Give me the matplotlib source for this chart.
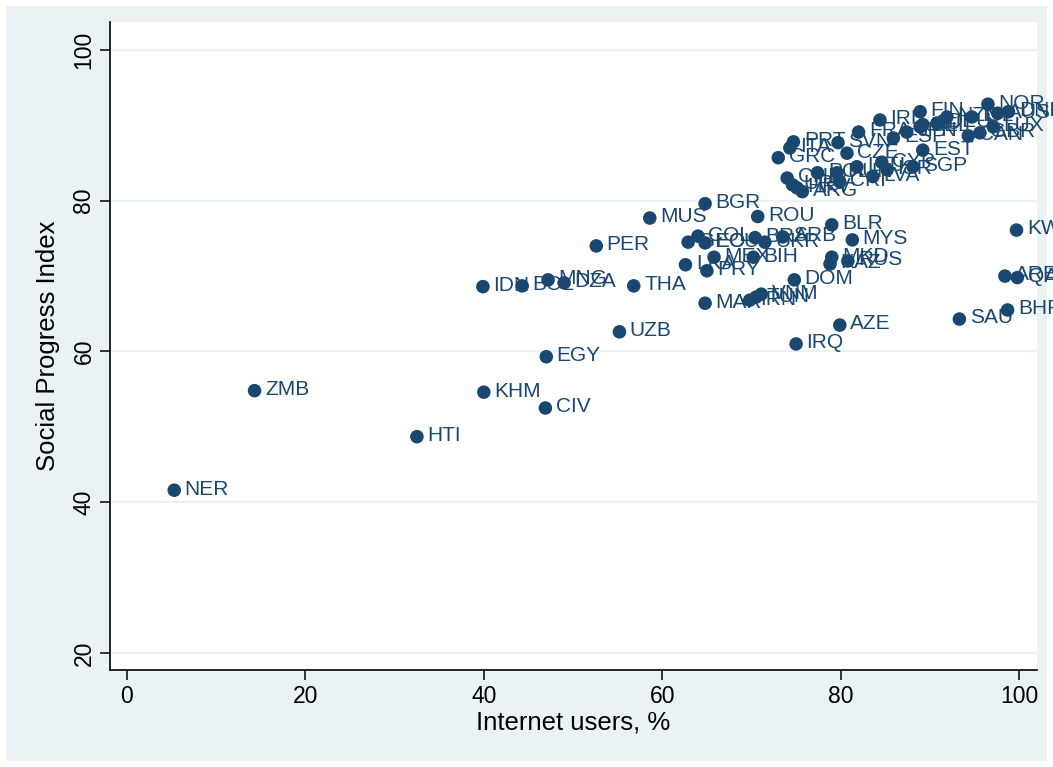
import matplotlib
matplotlib.use("Agg")
import matplotlib.pyplot as plt
from matplotlib.patches import Rectangle

plt.rcParams['font.family'] = ['Liberation Sans', 'DejaVu Sans']

# ---- data ----
codes = ["NER", "ZMB", "HTI", "KHM", "CIV", "EGY", "UZB", "IDN", "BOL", "MNG",
         "DZA", "THA", "PER", "MUS", "BGR", "ROU", "BLR", "MYS", "GEO", "COL",
         "ECU", "BRA", "UKR", "SRB", "MEX", "BIH", "LKA", "PRY", "MKD", "KAZ",
         "RUS", "DOM", "MAR", "IRN", "TUN", "VNM", "AZE", "IRQ", "KWT", "ARE",
         "QAT", "SAU", "BHR", "GRC", "ITA", "PRT", "SVN", "CZE", "FRA", "IRL",
         "EST", "SGP", "CHL", "URY", "HRV", "ARG", "POL", "HUN", "CRI", "LTU",
         "LVA", "ISR", "CYP", "ESP", "JPN", "BEL", "FIN", "AUT", "DEU", "NZL",
         "ISL", "AUS", "DNK", "NOR", "CAN", "GBR", "LUX"]
internet_users = [5.3, 14.3, 32.5, 40.0, 46.9, 47.0, 55.2, 39.9, 44.3, 47.2,
                  49.0, 56.8, 52.6, 58.6, 64.8, 70.7, 79.0, 81.3, 62.9, 64.0,
                  64.8, 70.4, 71.5, 73.5, 65.8, 70.2, 62.6, 65.0, 79.0, 78.8,
                  80.8, 74.8, 64.8, 69.8, 70.5, 71.1, 79.9, 75.0, 99.7, 98.4,
                  99.8, 93.3, 98.7, 73.0, 74.3, 74.7, 79.7, 80.7, 82.0, 84.4,
                  89.2, 88.1, 74.0, 74.6, 75.1, 75.7, 77.4, 79.6, 79.9, 81.8,
                  83.6, 85.2, 84.6, 85.9, 87.4, 88.9, 88.9, 89.2, 90.8, 91.9,
                  94.7, 97.6, 98.8, 96.5, 94.3, 95.6, 97.1]
spi = [41.6, 54.8, 48.7, 54.6, 52.5, 59.3, 62.6, 68.6, 68.7, 69.5,
       69.1, 68.7, 74.0, 77.7, 79.6, 77.9, 76.8, 74.8, 74.5, 75.3,
       74.4, 75.1, 74.5, 75.2, 72.5, 72.5, 71.5, 70.7, 72.5, 71.6,
       72.0, 69.5, 66.4, 66.8, 67.2, 67.6, 63.5, 61.0, 76.1, 70.0,
       69.8, 64.3, 65.5, 85.7, 87.0, 87.8, 87.7, 86.3, 89.1, 90.7,
       86.7, 84.5, 83.0, 82.1, 81.7, 81.2, 83.7, 83.7, 82.5, 84.5,
       83.2, 84.1, 85.1, 88.3, 89.1, 89.8, 91.8, 90.1, 90.3, 91.1,
       91.1, 91.6, 91.8, 92.8, 88.6, 89.0, 89.8]

x_ticks = [0, 20, 40, 60, 80, 100]
y_ticks = [20, 40, 60, 80, 100]
x_title = "Internet users, %"
y_title = "Social Progress Index"

navy = "#1A476F"
bg = "#EAF2F3"

fig = plt.figure(figsize=(10.53, 7.67), dpi=100)
fig.patch.set_facecolor("white")
fig.patches.append(Rectangle((6 / 1053, 6 / 767), 1041 / 1053, 755 / 767,
                             transform=fig.transFigure, facecolor=bg,
                             edgecolor="none", zorder=-10))

ax = fig.add_axes([110 / 1053, 1 - 670 / 767, 927 / 1053, 648 / 767])
ax.set_zorder(1)
ax.set_facecolor("white")
ax.set_xlim(-1.9, 102.0)
ax.set_ylim(17.75, 103.7)

for yt in y_ticks:
    ax.axhline(yt, color=bg, lw=1.6, zorder=1)

ax.scatter(internet_users, spi, s=95, color=navy, edgecolors="none", zorder=3)
for c, xv, yv in zip(codes, internet_users, spi):
    ax.annotate(c, (xv, yv), xytext=(7.5, 0.8), textcoords="offset points",
                va="center", ha="left", fontsize=15, color=navy,
                annotation_clip=False, zorder=4)

ax.set_xticks(x_ticks)
ax.set_yticks(y_ticks)
ax.tick_params(axis="both", direction="out", length=7, width=1.1,
               labelsize=16.5, colors="black")
ax.tick_params(axis="y", labelrotation=90)
for lab in ax.get_yticklabels():
    lab.set_va("center")
ax.set_xlabel(x_title, fontsize=18.5, labelpad=2)
ax.set_ylabel(y_title, fontsize=18.5, labelpad=9)

for side in ["top", "right"]:
    ax.spines[side].set_visible(False)
for side in ["left", "bottom"]:
    ax.spines[side].set_linewidth(1.2)
    ax.spines[side].set_color("black")

fig.savefig("out.png", dpi=100, facecolor=fig.get_facecolor())
